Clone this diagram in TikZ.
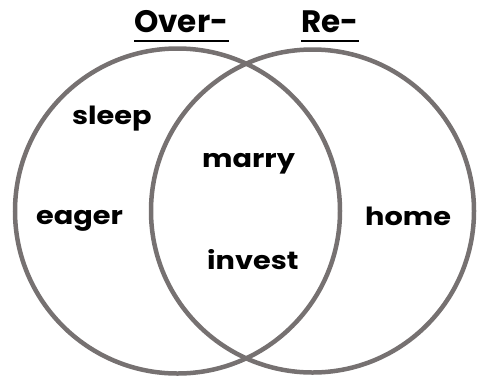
\documentclass[tikz,border=0pt]{standalone}
\usepackage{fontspec}
\setmainfont{Poppins}
\newfontfamily\wordfont[FakeStretch=1.15]{Poppins}
\definecolor{ringgray}{HTML}{767171}
\begin{document}
\begin{tikzpicture}[x=1pt,y=-1pt,
  ring/.style={draw=ringgray,line width=4.5pt},
  word/.style={inner sep=0pt,anchor=base west,font=\wordfont\fontsize{25}{30}\selectfont\bfseries},
  title/.style={inner sep=0pt,anchor=base west,font=\fontsize{31}{36}\selectfont\bfseries},
  ul/.style={draw=black,line width=2pt}]
\useasboundingbox (0,0) rectangle (479,376);
\draw[ring] (177.5,211) circle[radius=162.5];
\draw[ring] (312.5,211) circle[radius=161.5];
\node[title] (over) at (134,32) {Over-};
\node[title] (re) at (301,32) {Re-};
\draw[ul] ([yshift=-8.5pt]over.base west) -- ([yshift=-8.5pt]over.base east);
\draw[ul] ([yshift=-8.5pt]re.base west) -- ([yshift=-8.5pt]re.base east);
\node[word] (sleep) at (72,124) {sleep};
\node[word] (marry) at (202,167) {marry};
\node[word] (eager) at (36,224) {eager};
\node[word] (home) at (365,225) {home};
\node[word] (invest) at (207,269) {invest};
\end{tikzpicture}
\end{document}
